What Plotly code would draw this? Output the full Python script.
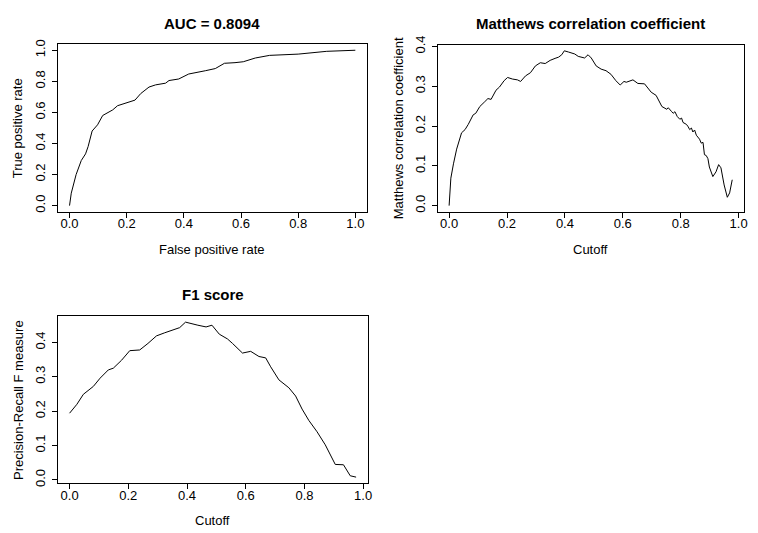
import plotly.graph_objects as go

# ROC curve
roc_fpr = [0, 0.006, 0.023, 0.041, 0.056, 0.065, 0.079, 0.098, 0.116, 0.133, 0.151, 0.168, 0.185,
           0.209, 0.229, 0.249, 0.278, 0.301, 0.336, 0.348, 0.382, 0.417, 0.44, 0.475, 0.51, 0.542,
           0.579, 0.608, 0.65, 0.7, 0.8, 0.9, 1.0]
roc_tpr = [0, 0.08, 0.20, 0.29, 0.333, 0.38, 0.48, 0.52, 0.58, 0.595, 0.616, 0.643, 0.652,
           0.669, 0.679, 0.721, 0.763, 0.777, 0.788, 0.805, 0.815, 0.847, 0.857, 0.868, 0.882, 0.916,
           0.92, 0.926, 0.95, 0.967, 0.975, 0.993, 1.0]

# Matthews correlation coefficient vs cutoff
mcc_cut = [0, 0.006, 0.015, 0.026, 0.043, 0.055, 0.066, 0.072, 0.083, 0.092, 0.106, 0.123, 0.134,
           0.145, 0.162, 0.174, 0.19, 0.202, 0.219, 0.236, 0.247, 0.264, 0.281, 0.298, 0.315, 0.332,
           0.349, 0.366, 0.378, 0.389, 0.398, 0.412, 0.423, 0.434, 0.446, 0.457, 0.468, 0.48, 0.491,
           0.508, 0.525, 0.542, 0.559, 0.576, 0.591, 0.604, 0.612, 0.635, 0.652, 0.675, 0.698, 0.715,
           0.727, 0.735, 0.752, 0.757, 0.769, 0.774, 0.78, 0.788, 0.797, 0.803, 0.808, 0.82, 0.826,
           0.831, 0.837, 0.842, 0.848, 0.854, 0.865, 0.871, 0.877, 0.88, 0.882, 0.888, 0.894, 0.899,
           0.911, 0.922, 0.931, 0.939, 0.95, 0.961, 0.969, 0.978]
mcc_val = [0, 0.069, 0.105, 0.142, 0.183, 0.191, 0.204, 0.212, 0.228, 0.232, 0.249, 0.261, 0.269,
           0.267, 0.29, 0.298, 0.314, 0.322, 0.318, 0.316, 0.312, 0.326, 0.334, 0.351, 0.359, 0.357,
           0.365, 0.37, 0.373, 0.379, 0.389, 0.386, 0.383, 0.381, 0.375, 0.373, 0.371, 0.379, 0.371,
           0.351, 0.343, 0.339, 0.33, 0.314, 0.303, 0.312, 0.31, 0.316, 0.307, 0.306, 0.285, 0.277,
           0.261, 0.249, 0.242, 0.246, 0.236, 0.232, 0.236, 0.224, 0.217, 0.22, 0.209, 0.204, 0.198,
           0.191, 0.195, 0.185, 0.19, 0.177, 0.167, 0.157, 0.159, 0.138, 0.128, 0.126, 0.118, 0.097,
           0.073, 0.085, 0.103, 0.095, 0.052, 0.021, 0.032, 0.065]

# F1 score vs cutoff
f1_cut = [0.0, 0.025, 0.047, 0.081, 0.104, 0.132, 0.149, 0.177, 0.205, 0.239, 0.267, 0.296, 0.324,
          0.352, 0.375, 0.395, 0.414, 0.437, 0.465, 0.485, 0.51, 0.538, 0.555, 0.589, 0.617, 0.645,
          0.668, 0.685, 0.713, 0.747, 0.77, 0.792, 0.815, 0.843, 0.871, 0.888, 0.905, 0.933, 0.956,
          0.976]
f1_val = [0.194, 0.22, 0.249, 0.272, 0.296, 0.32, 0.325, 0.348, 0.376, 0.378, 0.397, 0.419, 0.428,
          0.435, 0.443, 0.459, 0.454, 0.45, 0.445, 0.45, 0.424, 0.41, 0.397, 0.369, 0.374, 0.359,
          0.355, 0.329, 0.291, 0.268, 0.244, 0.206, 0.173, 0.14, 0.102, 0.074, 0.045, 0.044, 0.012,
          0.008]

tick_x = [0, 0.2, 0.4, 0.6, 0.8, 1.0]
tick_roc_y = [0, 0.2, 0.4, 0.6, 0.8, 1.0]
tick_mcc_y = [0, 0.1, 0.2, 0.3, 0.4]
tick_f1_y = [0, 0.1, 0.2, 0.3, 0.4]

titles = ["AUC = 0.8094", "Matthews correlation coefficient", "F1 score"]
xtitles = ["False positive rate", "Cutoff", "Cutoff"]
ytitles = ["True positive rate", "Matthews correlation coefficient", "Precision-Recall F measure"]

W, H = 758, 533
FONT = "Liberation Sans, Arial, sans-serif"


def rng(vals):
    lo, hi = min(vals), max(vals)
    d = (hi - lo) * 0.04
    return [lo - d, hi + d]


# panel boxes in pixels: (left, right, top, bottom)
boxes = [(58.5, 369.2, 35.9, 207.9), (440.7, 748.5, 36.5, 207.9), (58.5, 370.0, 314.6, 486.2)]

fig = go.Figure()
series = [(roc_fpr, roc_tpr, tick_x, tick_roc_y),
          (mcc_cut, mcc_val, tick_x, tick_mcc_y),
          (f1_cut, f1_val, tick_x, tick_f1_y)]

annotations = []
for i, (xs, ys, tx, ty) in enumerate(series):
    n = "" if i == 0 else str(i + 1)
    fig.add_trace(go.Scatter(x=xs, y=ys, mode="lines", line=dict(color="black", width=1),
                             xaxis="x" + n, yaxis="y" + n, showlegend=False, hoverinfo="skip"))
    l, r, t, b = boxes[i]
    axcommon = dict(showline=True, mirror=True, linecolor="black", linewidth=1,
                    ticks="outside", ticklen=5, tickcolor="black", tickwidth=1,
                    showgrid=False, zeroline=False,
                    tickfont=dict(family=FONT, size=13, color="black"))
    fig.update_layout(**{
        "xaxis" + n: dict(domain=[l / W, r / W], range=rng(xs), anchor="y" + n,
                          tickvals=tx, ticktext=["%.1f" % v for v in tx],
                          ticklabelstandoff=-5, **axcommon),
        "yaxis" + n: dict(domain=[1 - b / H, 1 - t / H], range=rng(ys), anchor="x" + n,
                          tickvals=ty, ticktext=["%.1f" % v for v in ty], tickangle=-90,
                          ticklabelstandoff=2, **axcommon),
    })
    cx = (l + r) / 2 / W
    annotations.append(dict(text="<b>%s</b>" % titles[i], x=cx, y=1 - (t - 21.5) / H,
                            xref="paper", yref="paper", showarrow=False, xanchor="center",
                            yanchor="middle", font=dict(family=FONT, size=15, color="black")))
    annotations.append(dict(text=xtitles[i], x=cx, y=1 - (b + 38.5) / H,
                            xref="paper", yref="paper", showarrow=False, xanchor="center",
                            yanchor="middle", font=dict(family=FONT, size=13, color="black")))
    annotations.append(dict(text=ytitles[i], x=(l - 40) / W, y=1 - (t + b) / 2 / H,
                            xref="paper", yref="paper", showarrow=False, xanchor="center",
                            yanchor="middle", textangle=-90,
                            font=dict(family=FONT, size=13, color="black")))

fig.update_layout(width=W, height=H, margin=dict(l=0, r=0, t=0, b=0),
                  paper_bgcolor="white", plot_bgcolor="white", annotations=annotations)

fig.write_html("out.html")
